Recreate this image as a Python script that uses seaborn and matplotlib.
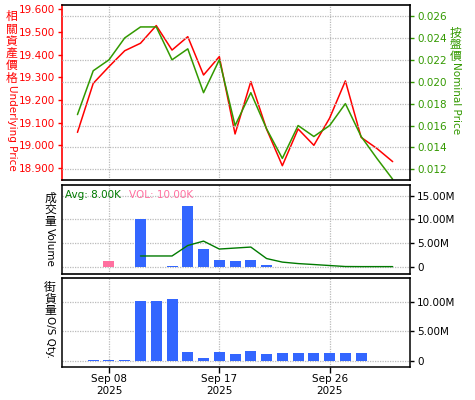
import matplotlib
matplotlib.use("Agg")
import matplotlib.pyplot as plt
import matplotlib.ticker as mticker
import numpy as np
import pandas as pd
import seaborn as sns

# ---------------- data ----------------
dates = ["Sep 04", "Sep 05", "Sep 08", "Sep 09", "Sep 10", "Sep 11", "Sep 12",
         "Sep 15", "Sep 16", "Sep 17", "Sep 18", "Sep 19", "Sep 22", "Sep 23",
         "Sep 24", "Sep 25", "Sep 26", "Sep 29", "Sep 30", "Oct 02", "Oct 03"]
underlying_price = [19.057, 19.273, 19.347, 19.417, 19.450, 19.528, 19.420,
                    19.479, 19.310, 19.391, 19.050, 19.281, 19.071, 18.910,
                    19.072, 19.000, 19.120, 19.284, 19.035, 18.986, 18.928]
nominal_price = [0.017, 0.021, 0.022, 0.024, 0.025, 0.025, 0.022,
                 0.023, 0.019, 0.022, 0.016, 0.019, 0.0157, 0.013,
                 0.016, 0.015, 0.016, 0.018, 0.015, 0.013, 0.0111]
# volume in millions; kind marks the pink vs blue bars
volume_m = [np.nan, np.nan, 1.20, np.nan, 10.07, np.nan, 0.28,
            12.85, 3.80, 1.53, 1.32, 1.53, 0.49, np.nan,
            np.nan, np.nan, np.nan, np.nan, np.nan, np.nan, np.nan]
volume_kind = ["blue", "blue", "pink", "blue", "blue", "blue", "blue",
               "blue", "blue", "blue", "blue", "blue", "blue", "blue",
               "blue", "blue", "blue", "blue", "blue", "blue", "blue"]
avg_volume_m = [np.nan, np.nan, np.nan, np.nan, 2.29, 2.29, 2.29,
                4.50, 5.42, 3.75, 3.96, 4.17, 1.75, 1.00,
                0.69, 0.49, 0.28, 0.07, 0.05, 0.05, 0.05]
os_qty_m = [np.nan, 0.17, 0.17, 0.17, 10.23, 10.23, 10.57,
            1.54, 0.51, 1.54, 1.14, 1.71, 1.14, 1.37,
            1.37, 1.37, 1.37, 1.37, 1.37, np.nan, np.nan]
tick_dates = ["Sep 08", "Sep 17", "Sep 26"]
tick_year = "2025"
avg_text = "Avg: 8.00K"
vol_text = "VOL: 10.00K"

# ---------------- style ----------------
sns.set_style("white")
plt.rcParams["font.family"] = ["DejaVu Sans", "Noto Sans CJK TC"]
plt.rcParams["font.size"] = 7.5

RED = "#FF0000"
GREEN = "#339900"
BLUE = "#3366FF"
PINK = "#FF6F9F"
AVG_GREEN = "#007A00"
GRID = "#BBBBBB"
DOT = (0, (1, 1))

pos = np.arange(len(dates))
tick_pos = [dates.index(d) for d in tick_dates]
xlim = (-1.0, 21.1)

W, H = 475, 400
fig = plt.figure(figsize=(4.75, 4.0), dpi=100)


def add_axes(left, top, right, bottom):
    return fig.add_axes([left / W, 1 - bottom / H, (right - left) / W, (bottom - top) / H])


ax_top = add_axes(61.7, 4.7, 410, 180)
ax_mid = add_axes(61.7, 185, 410, 273.5)
ax_bot = add_axes(61.7, 278.3, 410, 366.7)

# ---------------- top panel ----------------
df = pd.DataFrame({"pos": pos, "underlying": underlying_price, "nominal": nominal_price,
                   "vol": volume_m, "kind": volume_kind, "avg": avg_volume_m, "os": os_qty_m})

sns.lineplot(data=df, x="pos", y="underlying", ax=ax_top, color=RED, linewidth=1.1)
ax2 = ax_top.twinx()
sns.lineplot(data=df, x="pos", y="nominal", ax=ax2, color=GREEN, linewidth=1.1)

ax_top.set_xlim(*xlim)
ax_top.set_ylim(18.847, 19.620)
ax_top.set_yticks(np.arange(18.9, 19.65, 0.1))
ax_top.yaxis.set_major_formatter(mticker.FormatStrFormatter("%.3f"))
ax2.set_ylim(0.01103, 0.02703)
ax2.set_yticks(np.arange(0.012, 0.0265, 0.002))
ax2.yaxis.set_major_formatter(mticker.FormatStrFormatter("%.3f"))
ax_top.set_xticks(tick_pos)
ax_top.tick_params(axis="x", length=0, labelbottom=False)
ax_top.tick_params(axis="y", colors=RED, labelcolor=RED, length=3, width=1, pad=2, labelsize=7.5)
ax2.tick_params(axis="y", colors=GREEN, labelcolor=GREEN, length=3, width=1, pad=2, labelsize=7.5)
ax_top.set_xlabel("")
ax_top.set_ylabel("")
ax2.set_ylabel("")
ax_top.grid(axis="x", color=GRID, linestyle=DOT, linewidth=0.9)
ax_top.grid(axis="y", visible=False)
ax2.grid(axis="y", color=GRID, linestyle=DOT, linewidth=0.9)
ax2.grid(axis="x", visible=False)
ax2.set_axisbelow(True)

for a in (ax_top, ax2):
    for s in a.spines.values():
        s.set_visible(False)
ax_top.spines["left"].set_visible(True)
ax_top.spines["left"].set_color(RED)
ax_top.spines["left"].set_linewidth(1.2)
for side in ("top", "bottom", "right"):
    sp = ax2.spines[side]
    sp.set_visible(True)
    sp.set_color("black")
    sp.set_linestyle(DOT)
    sp.set_linewidth(1.2)

# ---------------- middle panel ----------------
sns.barplot(data=df.dropna(subset=["vol"]), x="pos", y="vol", hue="kind",
            palette={"blue": BLUE, "pink": PINK}, native_scale=True, width=0.7,
            dodge=False, errorbar=None, legend=False, linewidth=0, saturation=1,
            ax=ax_mid)
sns.lineplot(data=df.dropna(subset=["avg"]), x="pos", y="avg", ax=ax_mid,
             color=AVG_GREEN, linewidth=1.0)

# ---------------- bottom panel ----------------
sns.barplot(data=df.dropna(subset=["os"]), x="pos", y="os", native_scale=True,
            width=0.7, color=BLUE, saturation=1, errorbar=None, linewidth=0, ax=ax_bot)


def mfmt(v, _):
    return "0" if abs(v) < 1e-9 else f"{v:.2f}M"


for a, ylim, yt in ((ax_mid, (-1.4, 17.24), [0, 5, 10, 15]),
                    (ax_bot, (-1.03, 14.11), [0, 5, 10])):
    a.set_xlim(*xlim)
    a.set_ylim(*ylim)
    a.set_yticks(yt)
    a.yaxis.set_major_formatter(mticker.FuncFormatter(mfmt))
    a.yaxis.tick_right()
    a.set_xticks(tick_pos)
    a.set_xlabel("")
    a.set_ylabel("")
    a.grid(True, color=GRID, linestyle=DOT, linewidth=0.9)
    a.set_axisbelow(True)
    a.tick_params(axis="y", left=False, right=True, labelleft=False, labelright=True,
                  length=3, width=1, pad=2, colors="black", labelsize=7.5)
    for side in ("left", "right"):
        a.spines[side].set_visible(True)
        a.spines[side].set_color("black")
        a.spines[side].set_linewidth(1.1)
    for side in ("top", "bottom"):
        a.spines[side].set_visible(True)
        a.spines[side].set_color("black")
        a.spines[side].set_linestyle(DOT)
        a.spines[side].set_linewidth(1.2)

for p in ax_mid.patches:
    p.set_alpha(1)
ax_mid.tick_params(axis="x", length=0, labelbottom=False)
ax_bot.spines["bottom"].set_linestyle("-")
ax_bot.spines["bottom"].set_linewidth(1.1)
ax_bot.set_xticklabels([f"{d}\n{tick_year}" for d in tick_dates])
ax_bot.tick_params(axis="x", bottom=True, length=4, width=1, pad=1.5, labelsize=7.5, colors="black")

ax_mid.text(0.009, 0.887, avg_text, transform=ax_mid.transAxes, color=AVG_GREEN,
            fontsize=7.5, ha="left", va="center")
ax_mid.text(0.193, 0.887, vol_text, transform=ax_mid.transAxes, color=PINK,
            fontsize=7.5, ha="left", va="center")


# ---------------- axis titles (CJK upright + Latin rotated) ----------------
def vlabel(x, centers, cjk, latin, latin_top, color):
    for ch, yc in zip(cjk, centers):
        fig.text(x / W, 1 - yc / H, ch, ha="center", va="center", fontsize=8.5,
                 family=["Noto Sans CJK TC", "DejaVu Sans"], color=color)
    fig.text(x / W, 1 - latin_top / H, latin, rotation=-90, ha="center", va="top",
             fontsize=7.5, color=color)


vlabel(11.7, [16.7, 29.0, 41.3, 53.6, 65.9, 78.2], "相關資產價格", "Underlying Price", 85, RED)
vlabel(456, [33.3, 45.0, 56.7], "按盤價", "Nominal Price", 62, GREEN)
vlabel(50, [198.3, 210.0, 221.7], "成交量", "Volume", 228, "black")
vlabel(50, [287.3, 299.0, 310.7], "街貨量", "O/S Qty.", 316, "black")

fig.savefig("out.png", dpi=100)
